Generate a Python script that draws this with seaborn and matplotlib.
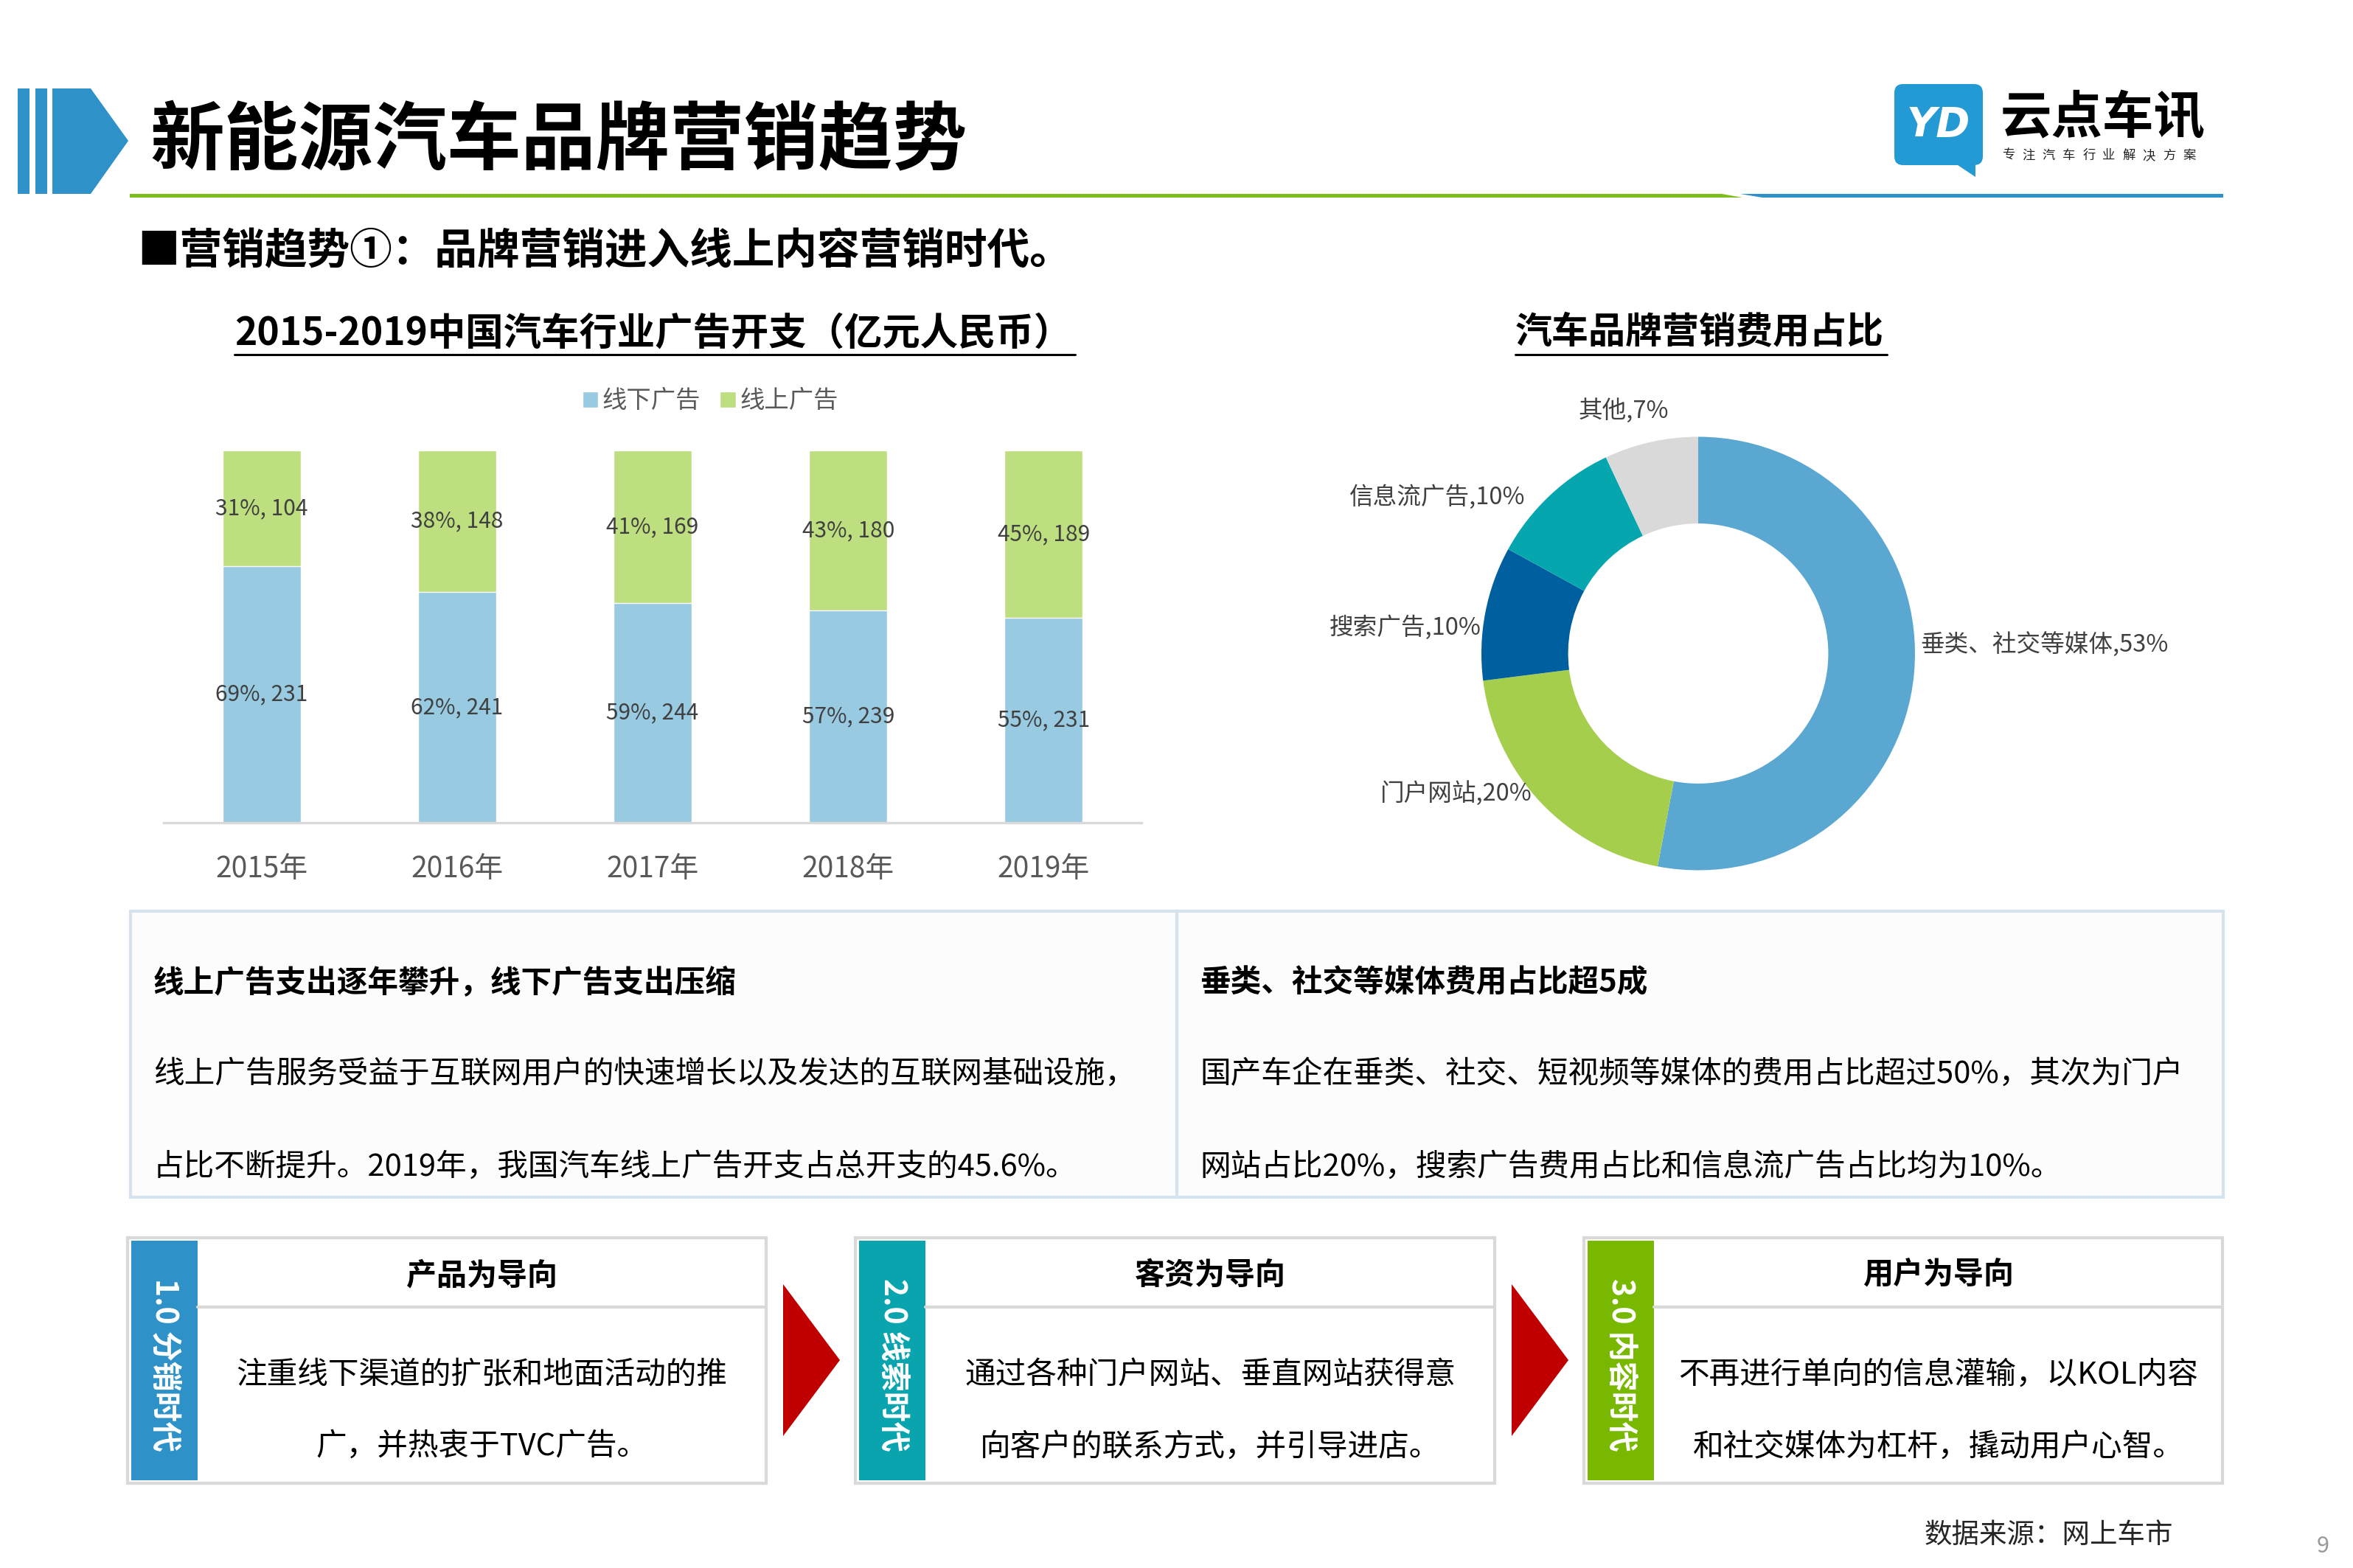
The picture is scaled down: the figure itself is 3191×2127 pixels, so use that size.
import matplotlib
matplotlib.use("Agg")
import matplotlib.pyplot as plt
from matplotlib.patches import Polygon, Rectangle, FancyBboxPatch, Patch
import seaborn as sns
import pandas as pd

# ---------------- data ----------------
years = ["2015年", "2016年", "2017年", "2018年", "2019年"]
offline_ads = [231, 241, 244, 239, 231]   # 线下广告 (亿元)
online_ads = [104, 148, 169, 180, 189]    # 线上广告 (亿元)
series_names = ["线下广告", "线上广告"]

donut_labels = ["垂类、社交等媒体", "门户网站", "搜索广告", "信息流广告", "其他"]
donut_values = [53, 20, 10, 10, 7]

# ---------------- style ----------------
sns.set_theme(style="white")
plt.rcParams["font.family"] = ["Noto Sans CJK SC", "DejaVu Sans"]

W, H = 3191, 2127
fig = plt.figure(figsize=(W / 100, H / 100), dpi=100)
fig.patch.set_facecolor("white")

ov = fig.add_axes([0, 0, 1, 1])
ov.set_xlim(0, W)
ov.set_ylim(H, 0)
ov.axis("off")

BLUE = "#2E92C8"
GREEN = "#7DBE1E"
TEAL = "#0AA4AE"
LIME = "#78B800"
RED = "#C00000"

def poly(pts, color, z=1):
    ov.add_patch(Polygon(pts, closed=True, facecolor=color, edgecolor="none", zorder=z))

def rect(x0, y0, x1, y1, fc, ec="none", lw=0, z=1):
    ov.add_patch(Rectangle((x0, y0), x1 - x0, y1 - y0, facecolor=fc, edgecolor=ec, linewidth=lw, zorder=z))

def T(x, y, s, size, ha="left", va="center", color="#000000", weight="normal", **kw):
    return ov.text(x, y, s, fontsize=size, ha=ha, va=va, color=color, fontweight=weight, zorder=5, **kw)

# ---------------- header ----------------
rect(24, 120, 40, 263, BLUE)
rect(48, 120, 64, 263, BLUE)
poly([(71, 120), (123, 120), (174, 191), (123, 263), (71, 263)], BLUE)
T(203, 192, "新能源汽车品牌营销趋势", 72.5, weight="bold")
poly([(176, 263), (2335, 263), (2363, 268), (176, 268)], GREEN)
poly([(2360, 263), (3015, 263), (3015, 268), (2390, 268)], BLUE)

# logo
ov.add_patch(FancyBboxPatch((2569, 114), 120, 110, boxstyle="round,pad=0,rounding_size=12",
                            facecolor="#239AD3", edgecolor="none", zorder=2))
poly([(2652, 222), (2679, 240), (2679, 222)], "#239AD3", z=2)
T(2629, 170, "YD", 40, ha="center", color="white", weight="bold", style="italic",
  family="DejaVu Sans")
T(2713, 160, "云点车讯", 50, weight="bold")
for i, ch in enumerate("专注汽车行业解决方案"):
    T(2724 + i * 27.2, 211, ch, 12.5, ha="center", color="#222222")

# subtitle
T(186, 341, "■营销趋势①：品牌营销进入线上内容营销时代。", 41.5, weight="bold")

# chart titles
t1 = T(886, 452, "2015-2019中国汽车行业广告开支（亿元人民币）", 37, ha="center", weight="bold")
t2 = T(2305, 452, "汽车品牌营销费用占比", 36, ha="center", weight="bold")

# ---------------- stacked 100% bar chart ----------------
totals = [a + b for a, b in zip(offline_ads, online_ads)]
off_share = [a / t for a, t in zip(offline_ads, totals)]
on_share = [b / t for b, t in zip(online_ads, totals)]
df = pd.DataFrame({"year": years, "off": off_share, "on": on_share,
                   "full": [o + n for o, n in zip(off_share, on_share)]})

axb = fig.add_axes([222 / W, 1 - 1116 / H, 1326 / W, 505 / H])
axb.set_facecolor("none")
BAR_BLUE = "#98CAE2"
BAR_GREEN = "#BEDF7F"
sns.barplot(data=df, x="year", y="full", color=BAR_GREEN, saturation=1, width=0.4, ax=axb)
sns.barplot(data=df, x="year", y="off", color=BAR_BLUE, saturation=1, width=0.4, ax=axb)
axb.set_xlim(-0.5, 4.5)
axb.set_ylim(0, 1.0)
axb.set_xlabel("")
axb.set_ylabel("")
axb.set_yticks([])
for s in ["top", "right", "left"]:
    axb.spines[s].set_visible(False)
axb.spines["bottom"].set_color("#D9D9D9")
axb.spines["bottom"].set_linewidth(2.4)
axb.tick_params(axis="x", length=0, pad=31, labelsize=28, labelcolor="#595959")
for i in range(len(years)):
    axb.text(i, off_share[i] / 2, f"{round(off_share[i] * 100)}%, {offline_ads[i]}",
             ha="center", va="center", fontsize=21.5, color="#404040")
    axb.text(i, off_share[i] + on_share[i] / 2, f"{round(on_share[i] * 100)}%, {online_ads[i]}",
             ha="center", va="center", fontsize=21.5, color="#404040")
handles = [Patch(facecolor=BAR_BLUE), Patch(facecolor=BAR_GREEN)]
axb.legend(handles, series_names, loc="center", bbox_to_anchor=(963 / W, 1 - 544 / H),
           bbox_transform=fig.transFigure, ncol=2, frameon=False, fontsize=24,
           handlelength=0.65, handleheight=0.65, handletextpad=0.15, columnspacing=0.8,
           labelcolor="#595959")

# ---------------- donut ----------------
R = 294
S = 2 * R * 1.2
cx, cy = 2303, 886.5
axd = fig.add_axes([(cx - S / 2) / W, 1 - (cy + S / 2) / H, S / W, S / H])
axd.set_facecolor("none")
donut_colors = ["#5AA8D2", "#A6CE4D", "#00609F", "#05A6AE", "#D9D9D9"]
axd.pie(donut_values, colors=donut_colors, startangle=90, counterclock=False, radius=1,
        wedgeprops=dict(width=0.4, linewidth=0, edgecolor="none"))
axd.set_xlim(-1.2, 1.2)
axd.set_ylim(-1.2, 1.2)
axd.axis("off")
# label anchor positions (layout, in units of radius)
label_pos = [(1.024, 0.043, "left"), (-0.765, -0.645, "right"), (-1.0, 0.121, "right"),
             (-0.799, 0.723, "right"), (-0.344, 1.121, "center")]
for (lx, ly, ha), name, v in zip(label_pos, donut_labels, donut_values):
    axd.text(lx, ly, f"{name},{v}%", ha=ha, va="center", fontsize=23.5, color="#404040")

# ---------------- text boxes ----------------
BOX_EC = "#D5E3EF"
rect(177, 1236, 1596, 1624, "#FCFCFD", BOX_EC, 3)
rect(1596, 1236, 3015, 1624, "#FCFCFD", BOX_EC, 3)
T(208, 1333, "线上广告支出逐年攀升，线下广告支出压缩", 30, weight="bold")
T(208, 1457, "线上广告服务受益于互联网用户的快速增长以及发达的互联网基础设施，", 30)
T(208, 1583, "占比不断提升。2019年，我国汽车线上广告开支占总开支的45.6%。", 30)
T(1627, 1333, "垂类、社交等媒体费用占比超5成", 30, weight="bold")
T(1627, 1457, "国产车企在垂类、社交、短视频等媒体的费用占比超过50%，其次为门户", 30)
T(1627, 1583, "网站占比20%，搜索广告费用占比和信息流广告占比均为10%。", 30)

# ---------------- bottom flow ----------------
stages = [
    (173, 1039, BLUE, "1.0 分销时代", "产品为导向", ["注重线下渠道的扩张和地面活动的推", "广，并热衷于TVC广告。"]),
    (1160, 2027, TEAL, "2.0 线索时代", "客资为导向", ["通过各种门户网站、垂直网站获得意", "向客户的联系方式，并引导进店。"]),
    (2148, 3014, LIME, "3.0 内容时代", "用户为导向", ["不再进行单向的信息灌输，以KOL内容", "和社交媒体为杠杆，撬动用户心智。"]),
]
for x0, x1, col, side, head, body in stages:
    rect(x0, 1679, x1, 2012, "white", "#D9D9D9", 3)
    rect(x0 + 5, 1683, x0 + 95, 2008, col, z=2)
    ov.plot([x0 + 95, x1], [1773, 1773], color="#D9D9D9", lw=3, zorder=2)
    T(x0 + 50, 1851, side, 29.5, ha="center", color="white", weight="bold", rotation=-90)
    xc = (x0 + 95 + x1) / 2
    T(xc, 1730, head, 29.5, ha="center", weight="bold")
    T(xc, 1865, body[0], 30, ha="center")
    T(xc, 1963, body[1], 30, ha="center")

poly([(1062, 1742), (1139, 1845), (1062, 1948)], RED)
poly([(2050, 1742), (2127, 1845), (2050, 1948)], RED)

T(2610, 2082, "数据来源：网上车市", 27, color="#262626")
T(3150, 2097, "9", 22, ha="center", color="#9A9A9A")

# underline for chart titles
fig.canvas.draw()
for t in (t1, t2):
    bb = t.get_window_extent()
    ov.plot([bb.x0, bb.x1 + 4], [481, 481], color="#000000", lw=2.2, zorder=5)

fig.savefig("out.png", dpi=100)
